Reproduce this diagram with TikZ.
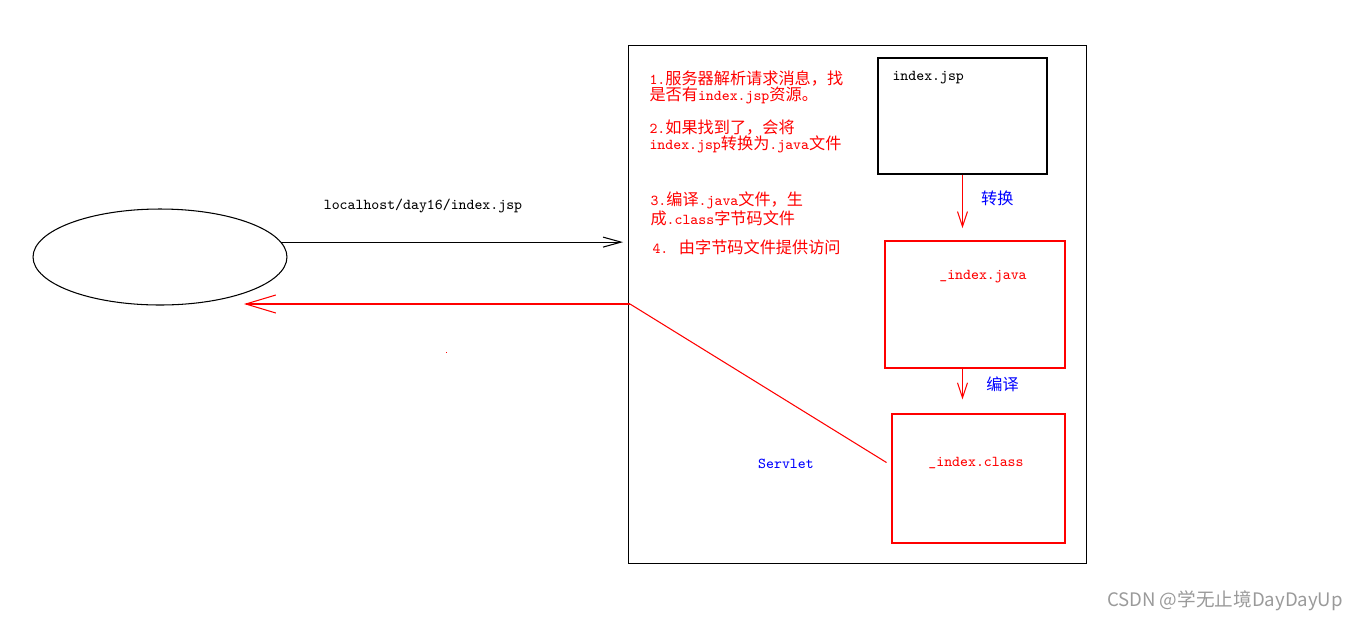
\documentclass[tikz,border=0pt]{standalone}
\usepackage{fontspec}
\usetikzlibrary{arrows.meta,calc,positioning,shapes.geometric}
\newfontfamily\cjk{Noto Sans CJK SC}[Scale=1.07]
\newcommand{\zh}[1]{{\cjk #1}}
\definecolor{jspRed}{HTML}{FF0000}
\definecolor{jspBlue}{HTML}{0000FF}
\definecolor{markGray}{HTML}{9A9A9A}

\begin{document}
\begin{tikzpicture}[x=0.02cm,y=-0.02cm,line width=0.6pt,
  box/.style={draw,rectangle,inner sep=0pt},
  txt/.style={inner sep=0pt,font=\fontsize{8.6}{9.4}\selectfont\ttfamily},
  note/.style={txt,text=jspRed,anchor=north west,align=left},
  barb/.style={-{Straight Barb[length=0.3cm,width=0.2cm]}}]
  \useasboundingbox (0,0) rectangle (1360,620);
  \node[draw,ellipse,minimum width=5.08cm,minimum height=1.92cm,inner sep=0pt] (browser) at (160,257) {};
  \node[box,minimum width=9.18cm,minimum height=10.38cm] (server) at (857.5,304.5) {};
  \node[box,minimum width=3.38cm,minimum height=2.32cm] (jsp) at (962.5,116) {};
  \node[box,draw=jspRed,minimum width=3.6cm,minimum height=2.54cm] (java) at (975,304.5) {};
  \node[box,draw=jspRed,minimum width=3.46cm,minimum height=2.58cm] (class) at (978.5,478.5) {};
  \node[txt,anchor=west] (jspname) at (892,78) {index.jsp};
  \node[txt,text=jspRed] (javaname) at (983,277) {\_index.java};
  \node[txt,text=jspRed] (classname) at (976,463) {\_index.class};
  \node[note] (step1) at (649,70) {1.\zh{服务器解析请求消息，找}\\\zh{是否有}index.jsp\zh{资源。}};
  \node[note] (step2) at (649,119) {2.\zh{如果找到了，会将}\\index.jsp\zh{转换为}.java\zh{文件}};
  \node[note] (step3) at (650,191) {3.\zh{编译}.java\zh{文件，生}\\\zh{成}.class\zh{字节码文件}};
  \node[note] (step4) at (652,239) {4. \zh{由字节码文件提供访问}};
  \node[txt] (url) at (423,206) {localhost/day16/index.jsp};
  \node[txt,text=jspBlue] (servlet) at (786,464) {Servlet};
  \coordinate (req) at (623,243);
  \coordinate (srv) at (630,304);
  \coordinate (ret) at (244,304);
  \draw[-{Straight Barb[length=0.36cm,width=0.2cm]}] (browser.7) -- (browser.7 -| req);
  \draw[jspRed,-{Straight Barb[length=0.6cm,width=0.36cm]}] (srv) -- (ret);
  \draw[jspRed] ([shift={(-5,-16)}]class.west) -- (srv);
  \draw[barb,jspRed,shorten >=7pt] (jsp.south) -- (jsp.south |- java.north)
    node[pos=0.36,right=7pt,text=jspBlue,font=\fontsize{8.6}{9.4}\selectfont\cjk] (convert) {转换};
  \draw[barb,jspRed,shorten >=8pt] (java.south -| jsp.south) -- (jsp.south |- class.north)
    node[pos=0.36,right=10pt,text=jspBlue,font=\fontsize{8.6}{9.4}\selectfont\cjk] (compile) {编译};
  \fill[jspRed] (445.5,351.5) rectangle (447,353);
  \node[text=markGray,font=\fontsize{9.9}{12}\selectfont\cjk] (mark) at (1225,601) {CSDN @学无止境DayDayUp};
\end{tikzpicture}
\end{document}
